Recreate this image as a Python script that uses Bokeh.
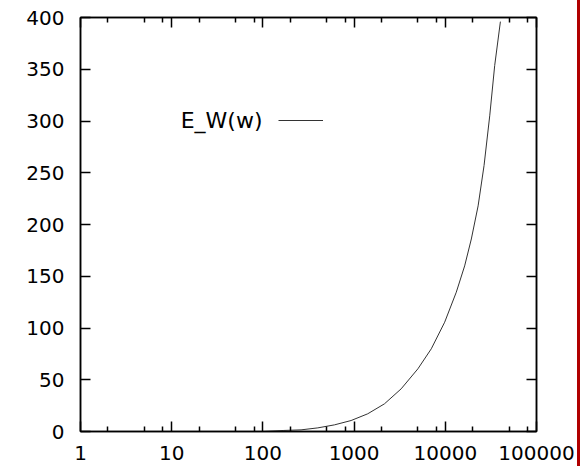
from bokeh.plotting import figure
from bokeh.models import (Range1d, FixedTicker, LogAxis, LinearAxis, NumeralTickFormatter,
                          Legend, LegendItem, Label, Div)
from bokeh.layouts import row
from bokeh.embed import file_html
from bokeh.resources import INLINE

# ---- data ----
w_values = [100, 170, 262, 400, 608, 927, 1410, 2150, 3280, 5010, 7020, 9840,
            13200, 16300, 19300, 22900, 26600, 30700, 34800, 40200]
e_values = [0, 1.0, 1.6, 3.5, 6.4, 10.6, 17.1, 26.7, 41.2, 60.6, 79.9, 105.6,
            134.6, 160, 186, 218, 257, 305, 353.6, 396]
series_name = "E_W(w)"
x_major_ticks = [1, 10, 100, 1000, 10000, 100000]
x_minor_mult = [2, 5, 8]
y_ticks = [0, 50, 100, 150, 200, 250, 300, 350, 400]

FONT = "DejaVu Sans"
FS = "20px"

p = figure(width=577, height=466, x_axis_type="log",
           x_range=Range1d(1, 100000), y_range=Range1d(0, 400),
           output_backend="svg", toolbar_location=None,
           min_border_left=80, min_border_right=41, min_border_top=17, min_border_bottom=35)
p.grid.visible = False
p.background_fill_color = "white"
p.border_fill_color = "white"
p.outline_line_color = "black"
p.outline_line_width = 1.5

minor = [m * t for t in x_major_ticks[:-1] for m in x_minor_mult]

line = p.line(w_values, e_values, line_color="#333333", line_width=1)

def style(ax, labels=True):
    ax.axis_line_color = "black"
    ax.axis_line_width = 1.5
    ax.major_tick_line_color = "black"
    ax.major_tick_line_width = 1.5
    ax.minor_tick_line_color = "black"
    ax.minor_tick_line_width = 1.5
    ax.major_tick_in = 10
    ax.major_tick_out = 0
    ax.minor_tick_in = 5
    ax.minor_tick_out = 0
    if labels:
        ax.major_label_text_font = FONT
        ax.major_label_text_font_size = FS
        ax.major_label_text_color = "black"
    else:
        ax.major_label_text_font_size = "1px"
        ax.major_label_text_alpha = 0
        ax.major_label_standoff = 0

xa = p.xaxis[0]
xa.ticker = FixedTicker(ticks=x_major_ticks, minor_ticks=minor)
xa.formatter = NumeralTickFormatter(format="0")
xa.major_label_standoff = 14
style(xa)

ya = p.yaxis[0]
ya.ticker = FixedTicker(ticks=y_ticks)
ya.major_label_standoff = 16
style(ya)
ya.minor_tick_in = 0

top = LogAxis(ticker=FixedTicker(ticks=x_major_ticks, minor_ticks=minor))
style(top, labels=False)
p.add_layout(top, "above")

right = LinearAxis(ticker=FixedTicker(ticks=y_ticks))
style(right, labels=False)
right.minor_tick_in = 0
p.add_layout(right, "right")

legend = Legend(items=[LegendItem(label=" ", renderers=[line])],
                location=(198, 301), padding=0, margin=0, spacing=0,
                border_line_alpha=0, background_fill_alpha=0,
                glyph_width=45, glyph_height=20, label_standoff=0,
                label_text_font_size="10px", label_height=20, label_width=1)
p.add_layout(legend, "center")

p.add_layout(Label(x=182, y=311, x_units="screen", y_units="screen", text=series_name,
                   text_align="right", text_baseline="middle",
                   text_font=FONT, text_font_size="22px", text_color="black"))

bar = Div(width=3, height=466, margin=(0, 0, 0, 0),
          styles={"background-color": "#b00000", "height": "466px", "width": "3px"})
layout = row(p, bar, spacing=0)

open("out.html", "w").write(file_html(layout, INLINE))
